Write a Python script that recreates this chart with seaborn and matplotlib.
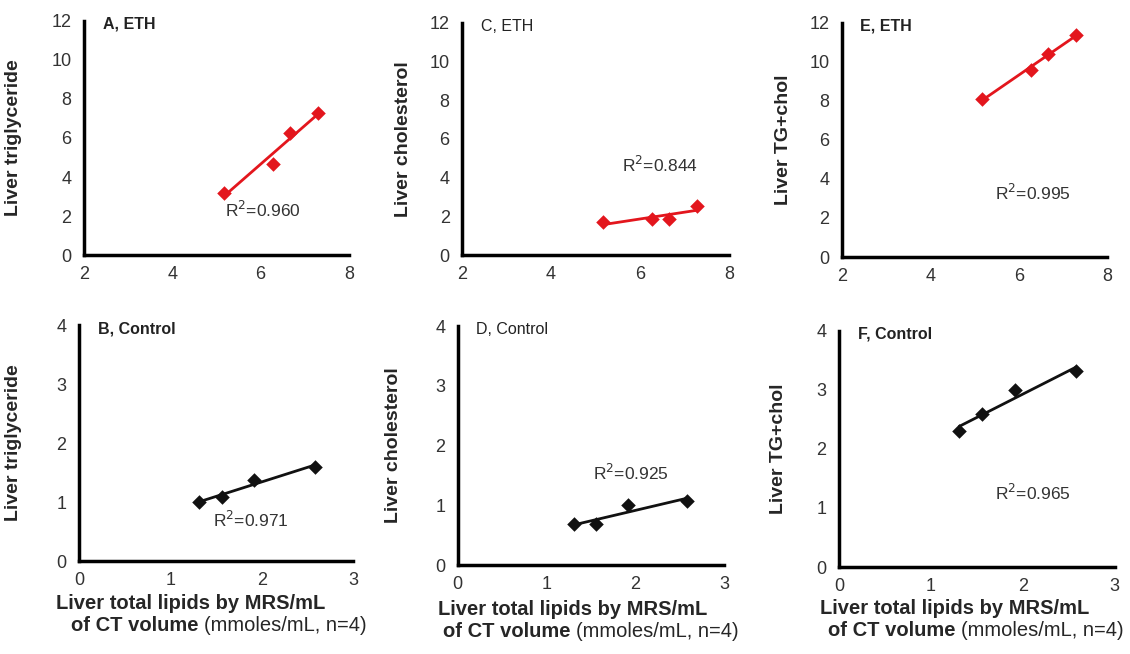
import numpy as np
import pandas as pd
import seaborn as sns
import matplotlib
matplotlib.use('Agg')
import matplotlib.pyplot as plt
from matplotlib.offsetbox import TextArea, HPacker, AnchoredOffsetbox

# Data
eth_lipids = [5.17, 6.28, 6.66, 7.29]
ctrl_lipids = [1.31, 1.56, 1.92, 2.58]

eth_tg = [3.2, 4.65, 6.25, 7.3]
eth_chol = [1.7, 1.85, 1.85, 2.55]
eth_total = [8.1, 9.6, 10.4, 11.4]

ctrl_tg = [1.0, 1.08, 1.38, 1.6]
ctrl_chol = [0.68, 0.68, 1.0, 1.08]
ctrl_total = [2.3, 2.6, 3.0, 3.32]

r2_labels = ['0.960', '0.844', '0.995', '0.971', '0.925', '0.965']
panel_titles = ['A, ETH', 'C, ETH', 'E, ETH', 'B, Control', 'D, Control', 'F, Control']
y_titles = ['Liver triglyceride', 'Liver cholesterol', 'Liver TG+chol']

RED = '#e3161d'
BLACK = '#111111'

sns.set_style('white')
plt.rcParams['font.family'] = ['Liberation Sans', 'DejaVu Sans']

fig = plt.figure(figsize=(11.3, 6.54), dpi=100)

# axes rectangles [left, bottom, width, height] in figure fraction
rects = [
    [0.0743, 0.610, 0.2345, 0.358],
    [0.409, 0.610, 0.236, 0.355],
    [0.745, 0.607, 0.235, 0.358],
    [0.070, 0.142, 0.2425, 0.361],
    [0.405, 0.136, 0.236, 0.3655],
    [0.7425, 0.133, 0.244, 0.361],
]
ylabel_x = [-0.234, -0.187, -0.188, -0.208, -0.21, -0.188]
r2_pos = [(5.2, 2.3), (5.6, 4.66), (5.45, 3.3), (1.47, 0.69), (1.52, 1.54), (1.7, 1.25)]
title_bold = [True, False, True, True, False, True]
# (line1 x, line1 y, line2 x, line2 y) in axes fraction for the bottom row
xlab_pos = [(-0.085, -0.178, -0.03, -0.272),
            (-0.075, -0.185, -0.056, -0.28),
            (-0.069, -0.175, -0.04, -0.268)]

series = [
    (eth_lipids, eth_tg), (eth_lipids, eth_chol), (eth_lipids, eth_total),
    (ctrl_lipids, ctrl_tg), (ctrl_lipids, ctrl_chol), (ctrl_lipids, ctrl_total),
]

for i, (xv, yv) in enumerate(series):
    ax = fig.add_axes(rects[i])
    eth = i < 3
    color = RED if eth else BLACK
    df = pd.DataFrame({'x': xv, 'y': yv})
    sns.regplot(data=df, x='x', y='y', ax=ax, ci=None, color=color, marker='D',
                scatter_kws={'s': 55, 'alpha': 1, 'linewidths': 0},
                line_kws={'lw': 2})

    if eth:
        ax.set_xlim(2, 8)
        ax.set_ylim(0, 12)
        ax.set_xticks([2, 4, 6, 8])
        ax.set_yticks(range(0, 13, 2))
    else:
        ax.set_xlim(0, 3)
        ax.set_ylim(0, 4)
        ax.set_xticks([0, 1, 2, 3])
        ax.set_yticks([0, 1, 2, 3, 4])

    for side in ['top', 'right']:
        ax.spines[side].set_visible(False)
    for side in ['left', 'bottom']:
        ax.spines[side].set_linewidth(2.5)
        ax.spines[side].set_color('black')
    ax.tick_params(axis='y', direction='out', length=5, width=2, colors='black',
                   labelcolor='#333333', labelsize=13, pad=4)
    ax.tick_params(axis='x', direction='inout', length=8, width=2, colors='black',
                   labelcolor='#333333', labelsize=13, pad=4)
    ax.set_xlabel('')
    ax.set_ylabel(y_titles[i % 3], fontsize=14, fontweight='bold')
    ax.yaxis.set_label_coords(ylabel_x[i], 0.5)

    ax.text(0.07, 0.985, panel_titles[i], transform=ax.transAxes, fontsize=11.5,
            fontweight='bold' if title_bold[i] else 'normal', va='center', ha='left',
            color='#222222')
    rx, ry = r2_pos[i]
    ax.text(rx, ry, 'R$^2$=' + r2_labels[i], fontsize=12.5, color='#333333',
            va='center', ha='left')

    if not eth:
        x1, y1, x2, y2 = xlab_pos[i - 3]
        ax.text(x1, y1, 'Liver total lipids by MRS/mL', transform=ax.transAxes,
                fontsize=14.5, fontweight='bold', ha='left', va='center')
        box = HPacker(children=[
            TextArea('of CT volume ', textprops=dict(fontsize=14.5, fontweight='bold')),
            TextArea('(mmoles/mL, n=4)', textprops=dict(fontsize=14.5)),
        ], align='baseline', pad=0, sep=0)
        anchored = AnchoredOffsetbox(loc='center left', child=box, pad=0, borderpad=0,
                                     frameon=False, bbox_to_anchor=(x2, y2),
                                     bbox_transform=ax.transAxes)
        ax.add_artist(anchored)

fig.savefig('out.png', dpi=100)
